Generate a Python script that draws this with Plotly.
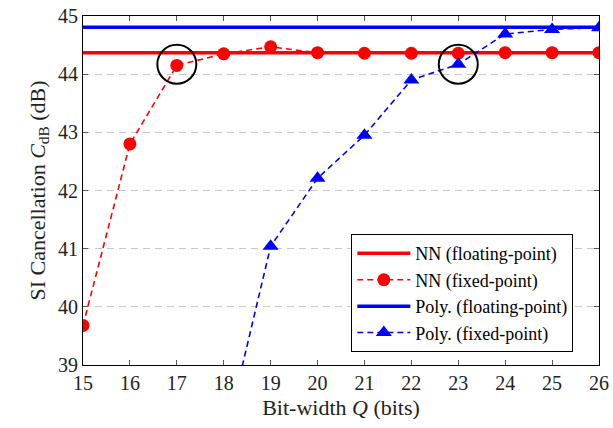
import plotly.graph_objects as go

bits = [15, 16, 17, 18, 19, 20, 21, 22, 23, 24, 25, 26]
nn_float = [44.37] * len(bits)
nn_fixed = [39.68, 42.80, 44.15, 44.35, 44.47, 44.37, 44.36, 44.36, 44.36, 44.37, 44.37, 44.37]
poly_float = [44.805] * len(bits)
poly_fixed = [37.64, 41.04, 42.21, 42.95, 43.90, 44.17, 44.69, 44.77, 44.80]
poly_bits = bits[3:]
highlight_x = [17, 23]
highlight_y = [44.17, 44.17]

RED = "#ff0000"
BLUE = "#0000ff"
FONT = "Liberation Serif"

fig = go.Figure()
fig.add_trace(go.Scatter(x=bits, y=nn_float, mode="lines", name="NN (floating-point)",
                         line=dict(color=RED, width=3.5)))
fig.add_trace(go.Scatter(x=bits, y=nn_fixed, mode="lines+markers", name="NN (fixed-point)",
                         line=dict(color=RED, width=1.6, dash="6px,4px"),
                         marker=dict(symbol="circle", size=13, color=RED)))
fig.add_trace(go.Scatter(x=bits, y=poly_float, mode="lines", name="Poly. (floating-point)",
                         line=dict(color=BLUE, width=3.5)))
fig.add_trace(go.Scatter(x=poly_bits, y=poly_fixed, mode="lines+markers", name="Poly. (fixed-point)",
                         line=dict(color=BLUE, width=1.6, dash="6px,4px"),
                         marker=dict(symbol="triangle-up", size=14, color=BLUE)))

for hx, hy in zip(highlight_x, highlight_y):
    fig.add_shape(type="circle", xref="x", yref="y", xsizemode="pixel", ysizemode="pixel",
                  xanchor=hx, yanchor=hy, x0=-19.5, x1=19.5, y0=-19.5, y1=19.5,
                  line=dict(color="black", width=2))

fig.update_layout(
    width=613, height=428,
    margin=dict(l=83, r=14, t=16, b=63, autoexpand=False),
    plot_bgcolor="white", paper_bgcolor="white",
    font=dict(family=FONT, size=20, color="#222"),
    showlegend=True,
    legend=dict(x=0.52, y=0.375, xanchor="left", yanchor="top",
                bordercolor="black", borderwidth=1, bgcolor="white",
                font=dict(family=FONT, size=18, color="black"),
                tracegroupgap=0, itemwidth=53),
)
fig.update_xaxes(range=[15, 26], tickvals=bits, ticks="inside", ticklen=5,
                 tickcolor="#555", showline=True, linecolor="black", linewidth=1.2,
                 mirror="ticks", showgrid=False, zeroline=False, automargin=False,
                 title=dict(text="Bit-width <i>Q</i> (bits)", standoff=6, font=dict(size=22)),
                 tickfont=dict(size=20))
fig.update_yaxes(range=[39, 45], tickvals=[39, 40, 41, 42, 43, 44, 45], ticks="inside", ticklen=5,
                 tickcolor="#555", showline=True, linecolor="black", linewidth=1.2,
                 mirror="ticks", showgrid=True, gridcolor="#c8c8c8", griddash="7px,5px",
                 gridwidth=1, zeroline=False, automargin=False,
                 title=dict(text="SI Cancellation <i>C</i><sub>dB</sub> (dB)", standoff=6, font=dict(size=22)),
                 tickfont=dict(size=20))

fig.write_html("out.html", config={"displayModeBar": False},
               post_script="document.body.style.margin='0';")
